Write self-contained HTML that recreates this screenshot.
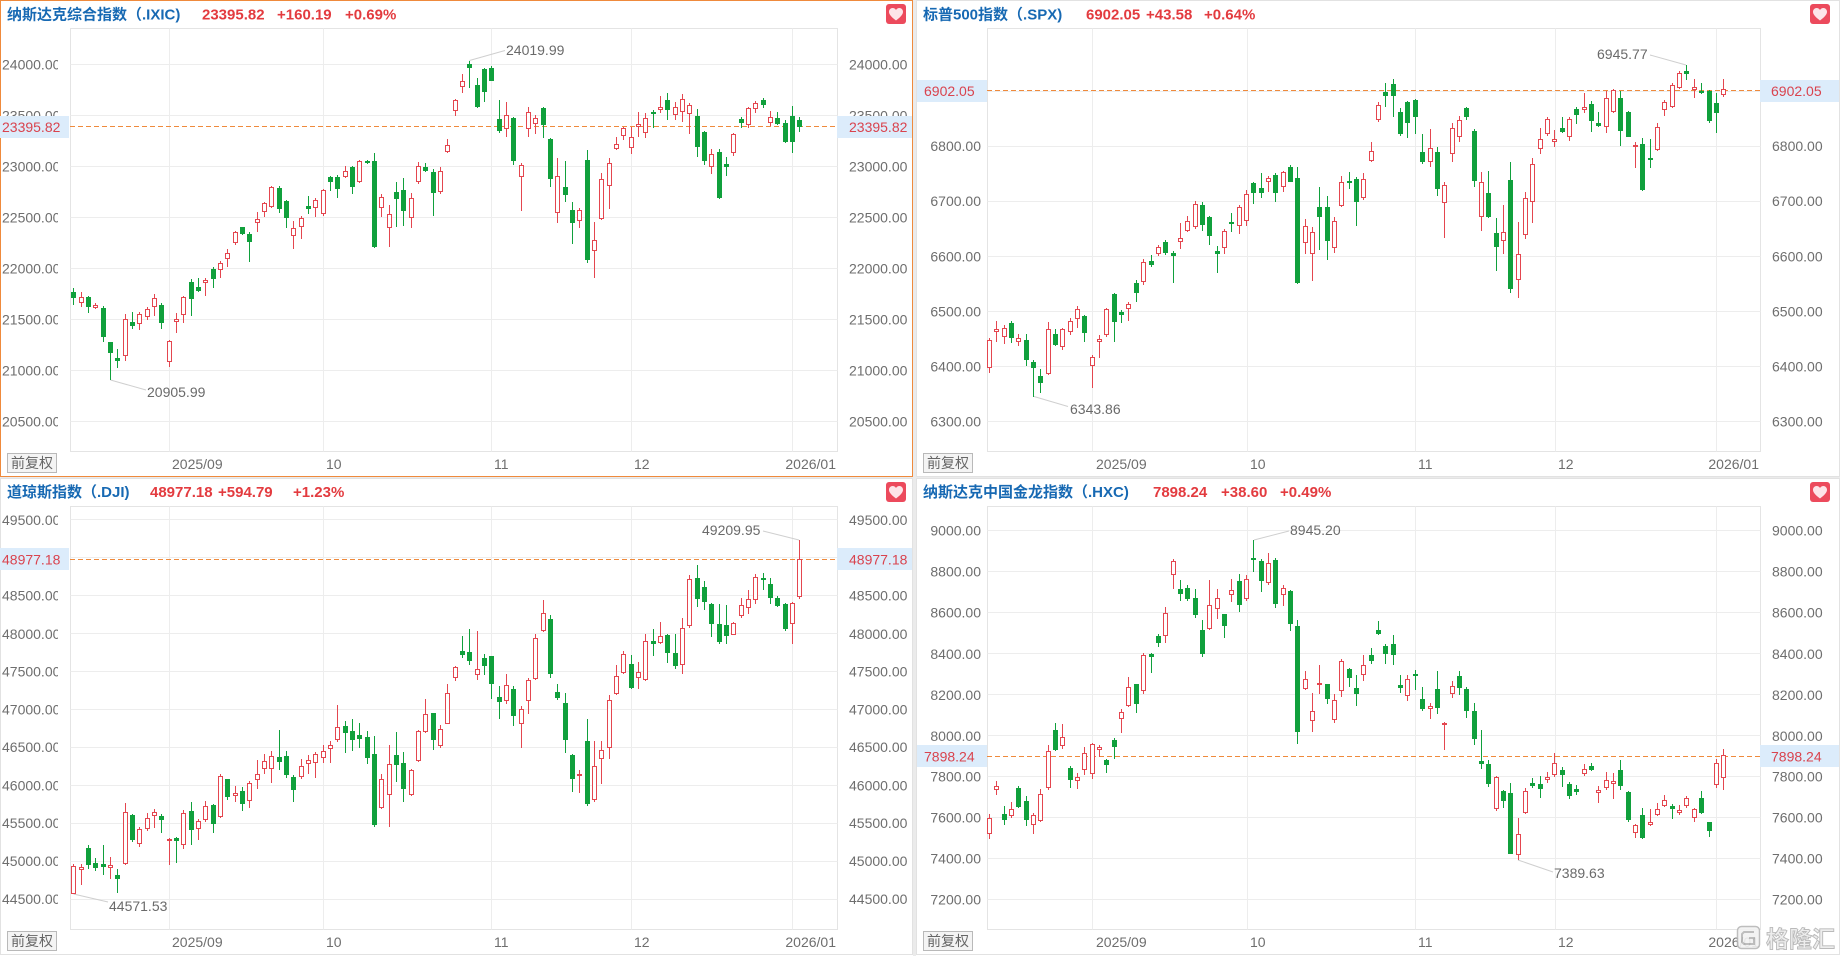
<!DOCTYPE html>
<html>
<head>
<meta charset="utf-8">
<style>
  html,body{margin:0;padding:0;background:#fff;width:1840px;height:960px;overflow:hidden;}
  svg{position:absolute;left:0;top:0;font-family:"Liberation Sans","Noto Sans CJK SC",sans-serif;}
  .ax{font-size:14px;fill:#6e6e6e;}
  .tt{font-size:15px;font-weight:bold;fill:#1769b3;}
  .vv{font-size:15px;font-weight:bold;fill:#e33b3f;}
  .bx{font-size:14px;fill:#d9434e;}
  .an{font-size:14px;fill:#6a6a6a;}
  .gl{stroke:#ededed;stroke-width:1;}
  .pb{fill:none;stroke:#e4e4e4;stroke-width:1;}
  .dl{stroke:#ef8a3c;stroke-width:1;stroke-dasharray:5,3;}
  .ld{stroke:#cfcfcf;stroke-width:1;fill:none;}
  .fq{fill:#f4f4f4;stroke:#b9b9b9;stroke-width:1;}
  .fqt{font-size:14px;fill:#666;}
</style>
</head>
<body>
<svg width="1840" height="960" viewBox="0 0 1840 960" xmlns="http://www.w3.org/2000/svg">
  <defs>
    <clipPath id="lc"><rect x="0" y="0" width="58" height="960"/></clipPath>
    <g id="heart">
      <rect x="0" y="0" width="20" height="20" rx="3" fill="#ec4a5c"/>
      <path d="M10,16.5 C4.5,12.5 3,10 3,7.8 C3,5.6 4.7,4 6.6,4 C8,4 9.3,4.8 10,6 C10.7,4.8 12,4 13.4,4 C15.3,4 17,5.6 17,7.8 C17,10 15.5,12.5 10,16.5 Z" fill="#fde4e8"/>
    </g>
  </defs>

  <!-- background and separators -->
  <rect x="0" y="0" width="1840" height="960" fill="#fff"/>
  <rect x="913" y="0" width="3" height="956" fill="#ebebeb"/>
  <rect x="0" y="477" width="1840" height="2" fill="#ebebeb"/>
  <rect x="916.5" y="0.5" width="923" height="476" fill="none" stroke="#e2e2e2"/>
  <rect x="0.5" y="478.5" width="912" height="476" fill="none" stroke="#e2e2e2"/>
  <rect x="916.5" y="478.5" width="923" height="476" fill="none" stroke="#e2e2e2"/>
  <rect x="0.5" y="0.5" width="912" height="476" fill="none" stroke="#ef8a3c"/>

  <!-- ================= TOP LEFT: IXIC ================= -->
  <rect class="pb" x="70.5" y="28.5" width="767" height="423"/>
  <g class="gl">
    <line x1="70.5" x2="837.5" y1="64.5" y2="64.5"/>
    <line x1="70.5" x2="837.5" y1="115.5" y2="115.5"/>
    <line x1="70.5" x2="837.5" y1="166.5" y2="166.5"/>
    <line x1="70.5" x2="837.5" y1="217.5" y2="217.5"/>
    <line x1="70.5" x2="837.5" y1="268.5" y2="268.5"/>
    <line x1="70.5" x2="837.5" y1="319.5" y2="319.5"/>
    <line x1="70.5" x2="837.5" y1="370.5" y2="370.5"/>
    <line x1="70.5" x2="837.5" y1="421.5" y2="421.5"/>
    <line x1="169.5" x2="169.5" y1="28.5" y2="451.5"/>
    <line x1="323.5" x2="323.5" y1="28.5" y2="451.5"/>
    <line x1="491.5" x2="491.5" y1="28.5" y2="451.5"/>
    <line x1="631.5" x2="631.5" y1="28.5" y2="451.5"/>
    <line x1="792.5" x2="792.5" y1="28.5" y2="451.5"/>
  </g>
  <g class="ax" clip-path="url(#lc)">
    <text x="2" y="69.5">24000.00</text>
    <text x="2" y="120.5">23500.00</text>
    <text x="2" y="171.5">23000.00</text>
    <text x="2" y="222.5">22500.00</text>
    <text x="2" y="273.5">22000.00</text>
    <text x="2" y="324.5">21500.00</text>
    <text x="2" y="375.5">21000.00</text>
    <text x="2" y="426.5">20500.00</text>
  </g>
  <g class="ax">
    <text x="849" y="69.5">24000.00</text>
    <text x="849" y="120.5">23500.00</text>
    <text x="849" y="171.5">23000.00</text>
    <text x="849" y="222.5">22500.00</text>
    <text x="849" y="273.5">22000.00</text>
    <text x="849" y="324.5">21500.00</text>
    <text x="849" y="375.5">21000.00</text>
    <text x="849" y="426.5">20500.00</text>
    <text x="172" y="469">2025/09</text>
    <text x="326" y="469">10</text>
    <text x="494" y="469">11</text>
    <text x="634" y="469">12</text>
    <text x="836" y="469" text-anchor="end">2026/01</text>
  </g>
  <line class="dl" x1="70" x2="837" y1="126.5" y2="126.5"/>
  <rect x="0" y="116" width="69" height="22" fill="#dcecfb"/>
  <text class="bx" x="2" y="132">23395.82</text>
  <rect x="837" y="116" width="75" height="22" fill="#dcecfb"/>
  <text class="bx" x="849" y="132">23395.82</text>
  <rect class="fq" x="7.5" y="453.5" width="49" height="19"/>
  <text class="fqt" x="32" y="468" text-anchor="middle">前复权</text>
  <text class="tt" x="7" y="19.5">纳斯达克综合指数（.IXIC)</text>
  <text class="vv" x="202" y="19.5">23395.82</text>
  <text class="vv" x="277" y="19.5">+160.19</text>
  <text class="vv" x="345" y="19.5">+0.69%</text>
  <use href="#heart" x="886" y="4"/>
  <polyline class="ld" points="469.5,60.5 505,50.5"/>
  <text class="an" x="506" y="55">24019.99</text>
  <polyline class="ld" points="110.5,380 146,390"/>
  <text class="an" x="147" y="397">20905.99</text>

  <!-- ================= TOP RIGHT: SPX ================= -->
  <rect class="pb" x="987.5" y="28.5" width="773" height="423"/>
  <g class="gl">
    <line x1="987.5" x2="1760.5" y1="91.5" y2="91.5"/>
    <line x1="987.5" x2="1760.5" y1="146.5" y2="146.5"/>
    <line x1="987.5" x2="1760.5" y1="201.5" y2="201.5"/>
    <line x1="987.5" x2="1760.5" y1="256.5" y2="256.5"/>
    <line x1="987.5" x2="1760.5" y1="311.5" y2="311.5"/>
    <line x1="987.5" x2="1760.5" y1="366.5" y2="366.5"/>
    <line x1="987.5" x2="1760.5" y1="421.5" y2="421.5"/>
    <line x1="1092.5" x2="1092.5" y1="28.5" y2="451.5"/>
    <line x1="1247.5" x2="1247.5" y1="28.5" y2="451.5"/>
    <line x1="1415.5" x2="1415.5" y1="28.5" y2="451.5"/>
    <line x1="1555.5" x2="1555.5" y1="28.5" y2="451.5"/>
    <line x1="1716.5" x2="1716.5" y1="28.5" y2="451.5"/>
  </g>
  <g class="ax">
    <text x="981" y="96" text-anchor="end">6900.00</text>
    <text x="981" y="151" text-anchor="end">6800.00</text>
    <text x="981" y="206" text-anchor="end">6700.00</text>
    <text x="981" y="261.5" text-anchor="end">6600.00</text>
    <text x="981" y="316.5" text-anchor="end">6500.00</text>
    <text x="981" y="371.5" text-anchor="end">6400.00</text>
    <text x="981" y="426.5" text-anchor="end">6300.00</text>
    <text x="1772" y="96">6900.00</text>
    <text x="1772" y="151">6800.00</text>
    <text x="1772" y="206">6700.00</text>
    <text x="1772" y="261.5">6600.00</text>
    <text x="1772" y="316.5">6500.00</text>
    <text x="1772" y="371.5">6400.00</text>
    <text x="1772" y="426.5">6300.00</text>
    <text x="1096" y="469">2025/09</text>
    <text x="1250" y="469">10</text>
    <text x="1418" y="469">11</text>
    <text x="1558" y="469">12</text>
    <text x="1759" y="469" text-anchor="end">2026/01</text>
  </g>
  <line class="dl" x1="987" x2="1760" y1="90.5" y2="90.5"/>
  <rect x="917" y="80" width="70" height="22" fill="#dcecfb"/>
  <text class="bx" x="924" y="96">6902.05</text>
  <rect x="1760" y="80" width="79" height="22" fill="#dcecfb"/>
  <text class="bx" x="1771" y="96">6902.05</text>
  <rect class="fq" x="923.5" y="453.5" width="49" height="19"/>
  <text class="fqt" x="948" y="468" text-anchor="middle">前复权</text>
  <text class="tt" x="923" y="19.5">标普500指数（.SPX)</text>
  <text class="vv" x="1086" y="19.5">6902.05</text>
  <text class="vv" x="1146" y="19.5">+43.58</text>
  <text class="vv" x="1204" y="19.5">+0.64%</text>
  <use href="#heart" x="1810" y="4"/>
  <polyline class="ld" points="1686,65 1650,55"/>
  <text class="an" x="1597" y="59">6945.77</text>
  <polyline class="ld" points="1034,396.5 1068,406.5"/>
  <text class="an" x="1070" y="414">6343.86</text>

  <!-- ================= BOTTOM LEFT: DJI ================= -->
  <rect class="pb" x="70.5" y="506.5" width="767" height="423"/>
  <g class="gl">
    <line x1="70.5" x2="837.5" y1="519.5" y2="519.5"/>
    <line x1="70.5" x2="837.5" y1="557.5" y2="557.5"/>
    <line x1="70.5" x2="837.5" y1="595.5" y2="595.5"/>
    <line x1="70.5" x2="837.5" y1="633.5" y2="633.5"/>
    <line x1="70.5" x2="837.5" y1="671.5" y2="671.5"/>
    <line x1="70.5" x2="837.5" y1="709.5" y2="709.5"/>
    <line x1="70.5" x2="837.5" y1="747.5" y2="747.5"/>
    <line x1="70.5" x2="837.5" y1="785.5" y2="785.5"/>
    <line x1="70.5" x2="837.5" y1="823.5" y2="823.5"/>
    <line x1="70.5" x2="837.5" y1="861.5" y2="861.5"/>
    <line x1="70.5" x2="837.5" y1="899.5" y2="899.5"/>
    <line x1="169.5" x2="169.5" y1="506.5" y2="929.5"/>
    <line x1="323.5" x2="323.5" y1="506.5" y2="929.5"/>
    <line x1="491.5" x2="491.5" y1="506.5" y2="929.5"/>
    <line x1="631.5" x2="631.5" y1="506.5" y2="929.5"/>
    <line x1="792.5" x2="792.5" y1="506.5" y2="929.5"/>
  </g>
  <g class="ax" clip-path="url(#lc)">
    <text x="2" y="525">49500.00</text>
    <text x="2" y="563">49000.00</text>
    <text x="2" y="600.5">48500.00</text>
    <text x="2" y="639">48000.00</text>
    <text x="2" y="676.5">47500.00</text>
    <text x="2" y="714.5">47000.00</text>
    <text x="2" y="752">46500.00</text>
    <text x="2" y="790.5">46000.00</text>
    <text x="2" y="828">45500.00</text>
    <text x="2" y="866">45000.00</text>
    <text x="2" y="904">44500.00</text>
  </g>
  <g class="ax">
    <text x="849" y="525">49500.00</text>
    <text x="849" y="563">49000.00</text>
    <text x="849" y="600.5">48500.00</text>
    <text x="849" y="639">48000.00</text>
    <text x="849" y="676.5">47500.00</text>
    <text x="849" y="714.5">47000.00</text>
    <text x="849" y="752">46500.00</text>
    <text x="849" y="790.5">46000.00</text>
    <text x="849" y="828">45500.00</text>
    <text x="849" y="866">45000.00</text>
    <text x="849" y="904">44500.00</text>
    <text x="172" y="947">2025/09</text>
    <text x="326" y="947">10</text>
    <text x="494" y="947">11</text>
    <text x="634" y="947">12</text>
    <text x="836" y="947" text-anchor="end">2026/01</text>
  </g>
  <line class="dl" x1="70" x2="837" y1="559.5" y2="559.5"/>
  <rect x="0" y="548" width="69" height="22" fill="#dcecfb"/>
  <text class="bx" x="2" y="564.5">48977.18</text>
  <rect x="837" y="548" width="75" height="22" fill="#dcecfb"/>
  <text class="bx" x="849" y="564.5">48977.18</text>
  <rect class="fq" x="7.5" y="931.5" width="49" height="19"/>
  <text class="fqt" x="32" y="946" text-anchor="middle">前复权</text>
  <text class="tt" x="7" y="497">道琼斯指数（.DJI)</text>
  <text class="vv" x="150" y="497">48977.18</text>
  <text class="vv" x="218" y="497">+594.79</text>
  <text class="vv" x="293" y="497">+1.23%</text>
  <use href="#heart" x="886" y="482"/>
  <polyline class="ld" points="799,540 763,531"/>
  <text class="an" x="702" y="535">49209.95</text>
  <polyline class="ld" points="73.5,894 108,902"/>
  <text class="an" x="109" y="911">44571.53</text>

  <!-- ================= BOTTOM RIGHT: HXC ================= -->
  <rect class="pb" x="987.5" y="506.5" width="773" height="423"/>
  <g class="gl">
    <line x1="987.5" x2="1760.5" y1="530.5" y2="530.5"/>
    <line x1="987.5" x2="1760.5" y1="571.5" y2="571.5"/>
    <line x1="987.5" x2="1760.5" y1="612.5" y2="612.5"/>
    <line x1="987.5" x2="1760.5" y1="653.5" y2="653.5"/>
    <line x1="987.5" x2="1760.5" y1="694.5" y2="694.5"/>
    <line x1="987.5" x2="1760.5" y1="735.5" y2="735.5"/>
    <line x1="987.5" x2="1760.5" y1="776.5" y2="776.5"/>
    <line x1="987.5" x2="1760.5" y1="817.5" y2="817.5"/>
    <line x1="987.5" x2="1760.5" y1="858.5" y2="858.5"/>
    <line x1="987.5" x2="1760.5" y1="899.5" y2="899.5"/>
    <line x1="1092.5" x2="1092.5" y1="506.5" y2="929.5"/>
    <line x1="1247.5" x2="1247.5" y1="506.5" y2="929.5"/>
    <line x1="1415.5" x2="1415.5" y1="506.5" y2="929.5"/>
    <line x1="1555.5" x2="1555.5" y1="506.5" y2="929.5"/>
    <line x1="1716.5" x2="1716.5" y1="506.5" y2="929.5"/>
  </g>
  <g class="ax">
    <text x="981" y="535.5" text-anchor="end">9000.00</text>
    <text x="981" y="576.5" text-anchor="end">8800.00</text>
    <text x="981" y="617.5" text-anchor="end">8600.00</text>
    <text x="981" y="659" text-anchor="end">8400.00</text>
    <text x="981" y="700" text-anchor="end">8200.00</text>
    <text x="981" y="741" text-anchor="end">8000.00</text>
    <text x="981" y="781.5" text-anchor="end">7800.00</text>
    <text x="981" y="822.5" text-anchor="end">7600.00</text>
    <text x="981" y="863.5" text-anchor="end">7400.00</text>
    <text x="981" y="904.5" text-anchor="end">7200.00</text>
    <text x="1772" y="535.5">9000.00</text>
    <text x="1772" y="576.5">8800.00</text>
    <text x="1772" y="617.5">8600.00</text>
    <text x="1772" y="659">8400.00</text>
    <text x="1772" y="700">8200.00</text>
    <text x="1772" y="741">8000.00</text>
    <text x="1772" y="781.5">7800.00</text>
    <text x="1772" y="822.5">7600.00</text>
    <text x="1772" y="863.5">7400.00</text>
    <text x="1772" y="904.5">7200.00</text>
    <text x="1096" y="947">2025/09</text>
    <text x="1250" y="947">10</text>
    <text x="1418" y="947">11</text>
    <text x="1558" y="947">12</text>
    <text x="1759" y="947" text-anchor="end">2026/01</text>
  </g>
  <line class="dl" x1="987" x2="1760" y1="756.5" y2="756.5"/>
  <rect x="917" y="745" width="70" height="22" fill="#dcecfb"/>
  <text class="bx" x="924" y="761.5">7898.24</text>
  <rect x="1760" y="745" width="79" height="22" fill="#dcecfb"/>
  <text class="bx" x="1771" y="761.5">7898.24</text>
  <rect class="fq" x="923.5" y="931.5" width="49" height="19"/>
  <text class="fqt" x="948" y="946" text-anchor="middle">前复权</text>
  <text class="tt" x="923" y="497">纳斯达克中国金龙指数（.HXC)</text>
  <text class="vv" x="1153" y="497">7898.24</text>
  <text class="vv" x="1221" y="497">+38.60</text>
  <text class="vv" x="1280" y="497">+0.49%</text>
  <use href="#heart" x="1810" y="482"/>
  <polyline class="ld" points="1254,540 1289,531"/>
  <text class="an" x="1290" y="535">8945.20</text>
  <polyline class="ld" points="1518,860 1553,872"/>
  <text class="an" x="1554" y="878">7389.63</text>

  <!-- candles -->
  <g id="candles"></g>

  <!-- watermark -->
  <g opacity="0.9">
    <rect x="1737.5" y="926.5" width="22" height="22" rx="4" fill="#f2f2f2" stroke="#b8b8b8" stroke-width="1.5"/>
    <path d="M1754,932 L1744,932 L1742,934 L1742,942 L1744,944 L1754,944 L1754,938 L1749,938" fill="none" stroke="#b8b8b8" stroke-width="2"/>
    <text x="1766" y="947" font-size="23" font-weight="bold" fill="#ececec" stroke="#b3b3b3" stroke-width="0.9">格隆汇</text>
  </g>
</svg>

<script>
(function(){
  var NS='http://www.w3.org/2000/svg';
  var G=document.getElementById('candles');
  var RED='#e4464f', GRN='#10a03c';
  function el(tag,a){var e=document.createElementNS(NS,tag);for(var k in a)e.setAttribute(k,a[k]);G.appendChild(e);}
  var P=[
   {x0:70,sx:2.036,y0:30,fx:7,dx:14.93,d:
"g,787,803,773,825;r,801,820,785,830;g,800,830,797,848;r,825,835,820,838;g,833,922,828,935;g,937,968,937,1050;g,984,992,958,1015;r,868,977,852,992;g,877,888,845,898;r,853,883,845,900;r,838,860,830,870;r,804,830,792,858;g,826,880,820,898;r,933,995,930,1010;r,867,877,850,908;r,801,855,798,880;g,757,806,748,858;g,772,782,745,787;r,750,758,745,797;g,717,748,712,773;r,700,721,692,743;r,670,688,658,712;r,606,640,603,645;g,592,612,590,615;g,612,635,605,695;r,567,580,545,605;r,520,545,517,562;r,470,530,467,535;g,474,538,467,550;g,513,563,510,593;r,595,617,573,658;r,565,590,558,627;g,528,537,498,553;r,510,535,503,562;r,480,552,477,558;g,440,456,437,483;g,440,477,435,503;r,423,440,408,445;g,412,472,408,493;r,393,455,390,458;g,393,400,390,402;g,394,652,370,655;r,500,535,492,562;r,552,595,525,650;g,487,508,457,590;g,480,542,443,588;r,503,565,490,593;r,408,455,395,463;g,410,422,400,425;g,425,488,418,557;r,423,485,410,492;r,345,365,327,368;r,210,243,207,257;r,152,172,133,188;g,103,115,92,173;g,165,230,145,233;g,117,187,113,215;g,113,153,108,153;g,267,302,210,308;r,255,298,215,320;g,263,392,260,405;r,405,440,400,543;r,246,298,232,320;r,263,283,255,313;g,233,285,230,323;g,327,448,325,470;r,437,548,385,580;g,470,495,393,517;g,540,580,517,643;r,540,573,535,595;g,390,690,360,700;r,630,663,575,745;r,448,567,430,570;r,400,468,385,537;r,343,357,320,360;r,295,318,290,330;r,320,355,292,373;r,282,292,245,322;r,263,310,250,323;g,245,252,240,295;r,230,240,198,248;g,210,240,190,270;r,230,255,215,270;r,208,245,192,275;r,225,253,220,313;g,258,350,238,380;g,305,392,303,405;r,372,412,358,432;g,365,505,358,508;g,402,412,382,437;r,312,370,308,377;g,268,278,260,295;r,235,285,232,293;r,220,238,212,248;g,210,225,205,235;r,260,280,242,287;g,265,282,245,285;g,280,335,270,340;g,258,335,228,370;g,270,290,262,305"},
   {x0:987,sx:2.028,y0:30,fx:4,dx:14.89,d:
"r,930,1015,925,1030;r,897,905,873,935;r,895,920,885,942;g,880,925,873,940;r,925,935,912,948;g,930,990,912,1007;g,997,1015,990,1100;g,1038,1058,1017,1088;r,897,1033,875,1035;g,912,945,897,948;r,897,950,893,960;r,873,905,865,915;r,837,868,827,895;g,858,908,855,935;r,982,1007,975,1075;r,927,935,915,985;r,837,915,833,920;g,793,875,788,937;g,845,855,840,880;r,823,838,815,873;g,760,790,750,815;r,697,755,687,765;g,693,705,675,712;r,652,673,645,677;g,637,668,630,675;g,668,678,663,758;r,625,635,580,658;r,572,602,557,605;r,522,590,513,597;g,525,585,515,603;g,560,617,557,645;g,663,673,647,728;r,603,653,597,672;g,577,583,548,605;r,532,587,525,612;r,493,572,480,587;g,460,488,455,523;g,475,488,430,505;r,445,457,438,487;g,435,488,428,515;r,425,472,422,485;g,412,455,405,455;g,445,760,410,763;r,588,640,567,673;r,605,673,592,752;g,532,560,472,660;g,532,632,497,690;r,572,655,560,670;r,455,528,438,530;g,453,460,427,478;g,447,515,442,588;r,447,505,430,510;r,362,393,335,395;r,225,270,215,277;g,185,198,160,232;g,163,198,148,262;g,245,312,235,318;g,215,280,213,325;g,210,262,208,312;g,367,395,313,403;r,355,395,297,410;g,367,478,352,497;r,465,520,457,625;r,295,372,280,395;r,270,322,257,337;g,235,262,230,270;g,303,452,297,470;r,457,560,425,602;g,490,560,422,565;g,610,650,565,722;r,607,633,525,672;g,450,778,397,790;r,673,750,577,805;r,505,615,487,628;r,403,517,383,580;r,327,358,295,372;r,268,312,262,318;r,328,335,300,350;g,295,305,262,308;r,267,322,262,332;g,237,255,232,283;r,232,240,190,248;g,223,272,213,305;g,280,287,245,290;r,205,292,182,310;r,180,247,178,250;g,205,303,182,348;g,245,320,243,322;r,345,352,335,413;g,342,480,325,483;g,383,390,327,415;r,292,360,280,363;r,215,240,210,257;r,165,230,160,235;r,130,175,122,177;g,123,133,105,150;r,172,180,147,203;g,182,190,160,193;g,183,272,180,280;g,220,250,190,308;r,178,195,148,200"},
   {x0:70,sx:2.036,y0:507,fx:7,dx:14.93,d:
"r,1077,1160,1072,1162;r,1080,1090,1070,1135;g,1023,1075,1013,1085;g,1068,1082,1052,1093;g,1072,1080,1013,1103;r,1073,1082,1050,1115;g,1103,1115,1087,1157;r,915,1072,887,1075;g,925,998,922,1005;r,967,1010,960,1020;r,933,967,918,972;r,915,928,905,962;g,927,938,920,978;r,995,1003,993,1075;g,992,1002,990,1068;r,917,1015,910,1025;g,912,970,885,1015;r,942,965,937,998;r,898,938,883,945;g,895,950,892,977;r,807,930,800,933;g,817,870,815,878;r,858,867,838,885;g,853,890,840,912;r,828,883,823,903;r,800,820,760,845;r,763,785,742,800;r,747,787,733,827;g,750,765,668,790;g,747,805,732,812;g,810,848,805,885;r,778,810,755,815;r,760,770,743,800;r,742,768,735,812;r,733,752,713,768;r,715,727,703,768;r,660,700,593,705;g,658,677,642,738;g,672,698,635,732;g,685,697,648,722;g,690,752,672,772;g,740,955,687,960;r,817,903,800,905;r,772,863,715,960;g,745,775,675,825;g,768,845,735,885;r,790,865,785,867;r,672,763,668,765;r,622,675,575,677;g,618,700,617,728;r,667,717,653,722;r,558,650,530,652;r,480,512,477,522;g,432,445,388,452;g,435,462,365,473;r,487,505,372,520;g,453,478,440,503;g,447,530,447,575;g,570,585,537,635;r,535,583,500,590;g,545,627,537,657;r,605,652,597,723;r,518,583,512,620;r,392,517,380,520;r,318,373,278,375;g,337,502,323,512;g,555,572,530,580;g,588,700,557,737;g,745,815,742,855;r,800,808,790,858;g,703,890,635,897;r,778,880,702,885;r,730,755,702,830;r,580,723,563,757;r,508,562,475,565;r,440,497,432,502;g,470,542,445,545;r,495,512,465,545;r,403,520,382,522;g,403,412,367,447;r,387,407,345,410;g,383,437,382,467;g,437,478,380,485;r,363,475,333,500;r,215,358,203,362;g,213,275,173,300;g,240,285,223,308;g,292,352,288,390;g,350,405,290,410;g,353,388,293,412;r,347,383,345,385;r,295,328,272,332;r,277,302,250,320;r,210,278,200,290;g,213,220,197,248;g,232,272,213,290;g,273,297,268,300;g,292,365,288,372;r,288,352,285,412;r,155,270,100,275"},
   {x0:987,sx:2.028,y0:507,fx:4,dx:14.89,d:
"r,933,980,920,995;r,838,850,822,865;g,922,940,898,955;r,905,928,885,932;g,843,900,837,903;g,883,940,868,957;r,925,955,918,980;r,862,942,845,945;r,733,843,715,848;g,670,728,648,732;r,690,717,652,725;g,783,818,778,843;r,810,823,797,845;r,737,790,720,803;r,712,802,708,815;r,720,728,713,750;g,760,775,755,797;g,700,720,693,757;r,615,637,607,677;r,540,598,510,600;g,532,590,530,617;r,443,553,438,560;g,442,450,437,498;g,388,407,380,420;r,317,388,300,408;r,162,205,157,245;g,245,262,218,282;g,243,275,233,282;g,273,325,245,333;g,370,442,340,450;r,295,365,220,368;r,273,307,245,335;g,322,358,320,392;r,250,265,215,285;g,222,293,200,315;r,215,275,205,283;g,153,160,100,195;g,162,223,155,255;r,168,227,138,235;g,158,290,152,302;r,243,265,233,297;g,252,352,248,372;g,357,675,340,710;r,515,545,493,550;r,612,643,557,675;r,528,535,475,562;g,532,575,530,590;r,580,640,562,647;r,462,552,455,570;g,487,512,482,540;g,542,560,503,598;r,475,505,443,522;g,445,462,422,470;g,368,382,342,385;g,418,442,410,472;g,410,445,385,475;g,535,542,505,557;r,515,568,505,583;g,500,507,488,550;g,577,607,540,612;r,598,607,588,637;g,547,602,492,622;r,648,655,645,730;r,538,560,522,572;g,508,542,493,563;g,545,613,540,632;g,612,695,588,715;g,762,772,670,785;g,772,832,760,840;r,810,907,808,912;g,852,883,850,903;g,858,1040,828,1042;r,982,1043,932,1060;r,852,918,843,922;g,828,838,812,843;g,832,845,808,872;r,810,818,795,828;r,768,803,738,810;g,788,803,780,840;g,830,868,825,877;g,845,855,835,865;r,787,800,770,808;g,777,788,767,792;r,850,857,838,887;r,820,843,795,848;r,822,832,797,875;g,790,838,758,850;g,855,940,853,945;r,955,977,952,993;g,925,993,903,997;r,945,953,905,957;r,905,925,888,928;r,878,897,865,900;g,897,907,892,937;r,910,917,895,923;r,873,898,868,903;r,907,932,902,945;g,873,918,852,920;g,945,973,945,990;r,768,835,757,842;r,745,812,727,848"}
  ];
  P.forEach(function(p){
    var rows=p.d.split(';');
    rows.forEach(function(row,i){
      var v=row.split(',');
      var c=v[0];
      var bt=p.y0+(+v[1])/3, bb=p.y0+(+v[2])/3, wt=p.y0+(+v[3])/3, wb=p.y0+(+v[4])/3;
      var cx=Math.round(p.x0+(p.fx+i*p.dx)/p.sx)+0.5;
      var t=Math.round(bt), b=Math.round(bb), wtt=Math.round(wt), wbb=Math.round(wb);
      if(b-t<1) b=t+1;
      if(c==='g'){
        el('line',{x1:cx,x2:cx,y1:wtt,y2:Math.max(wbb,b),stroke:GRN,'stroke-width':1});
        el('rect',{x:cx-2.5,y:t,width:5,height:b-t,fill:GRN});
      } else {
        if(wtt<t) el('line',{x1:cx,x2:cx,y1:wtt,y2:t,stroke:RED,'stroke-width':1});
        if(wbb>b) el('line',{x1:cx,x2:cx,y1:b,y2:wbb,stroke:RED,'stroke-width':1});
        var h=Math.max(1,b-t-1);
        el('rect',{x:cx-2,y:t+0.5,width:4,height:h,fill:'#fff',stroke:RED,'stroke-width':1});
      }
    });
  });
})();
</script>
</body>
</html>
